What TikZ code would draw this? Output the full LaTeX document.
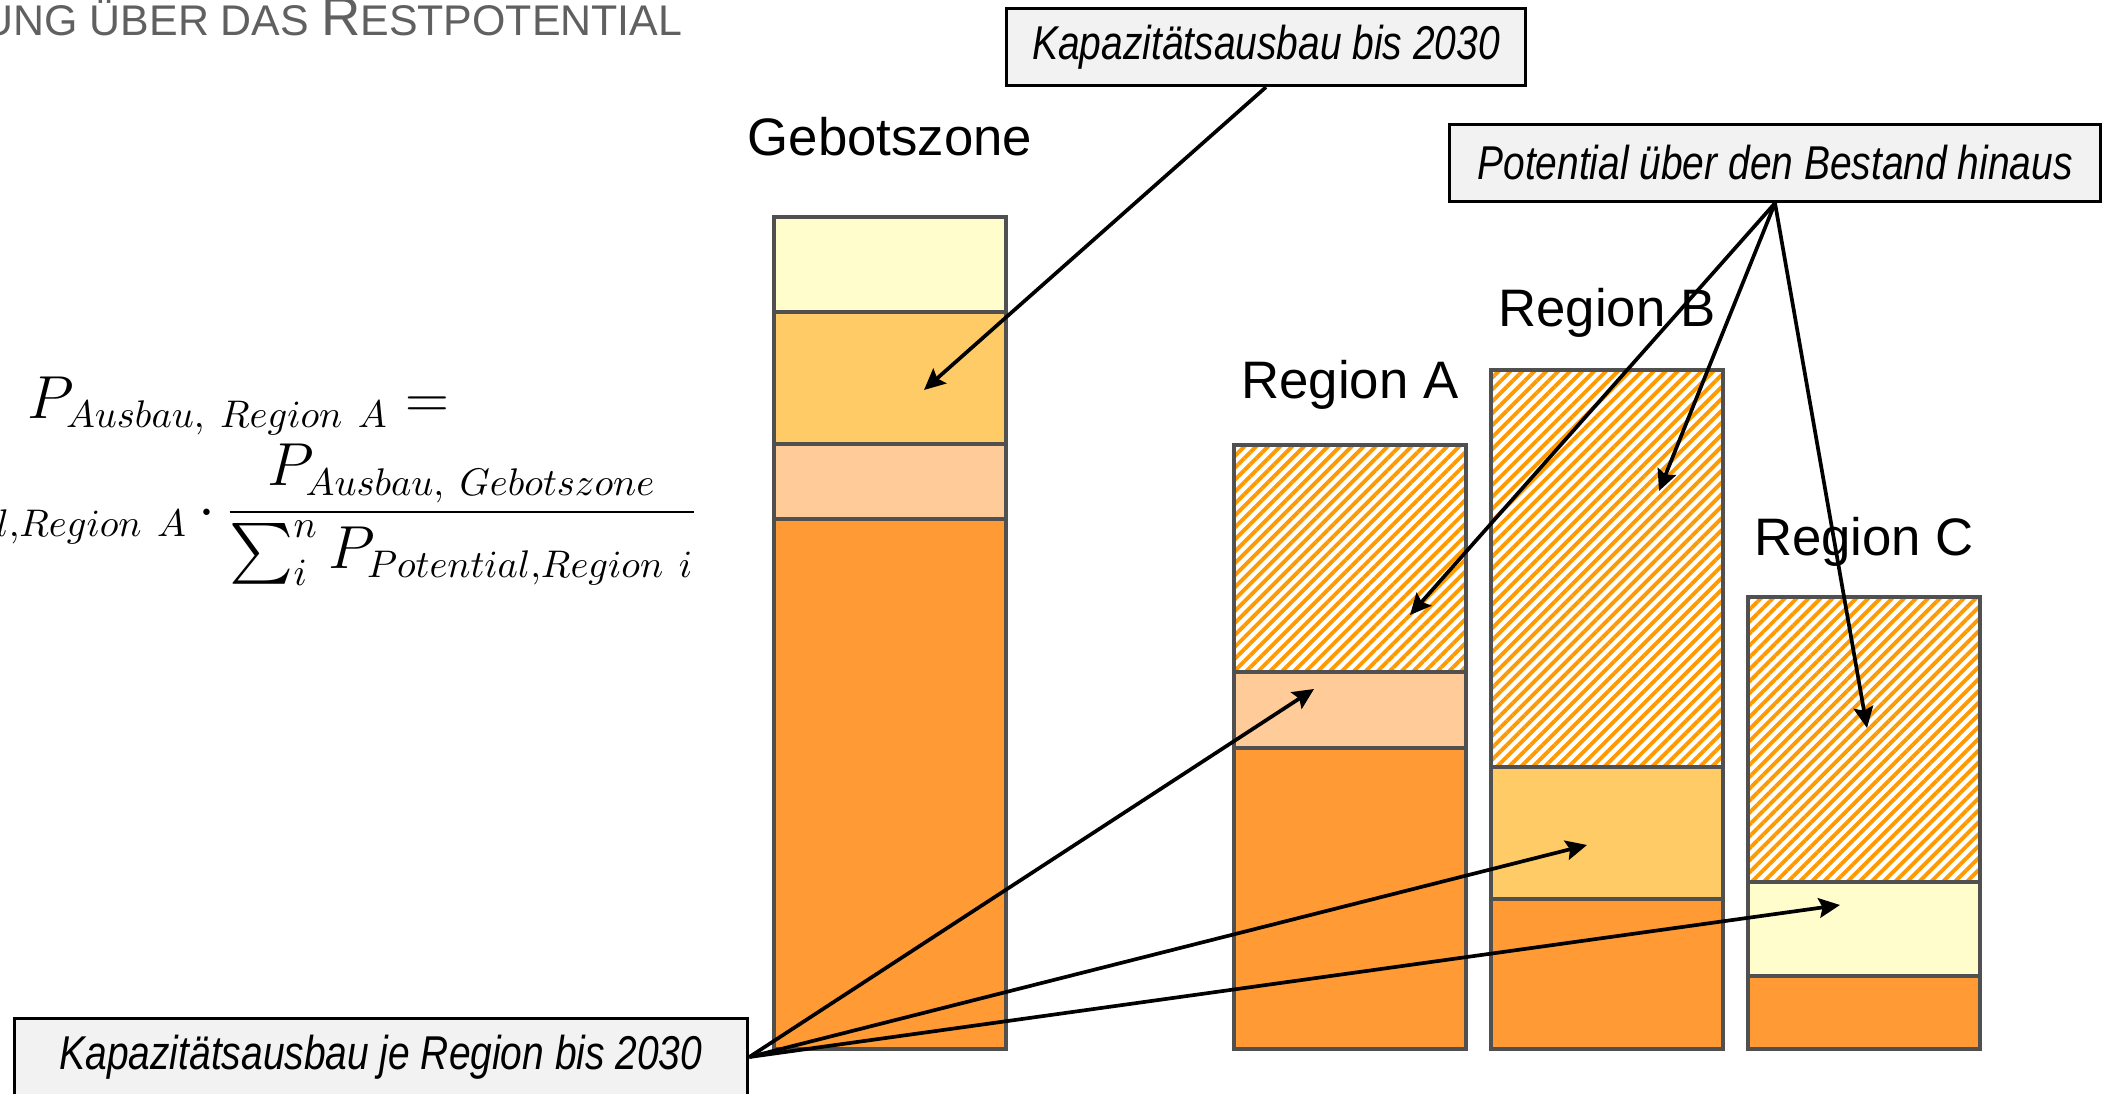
\documentclass[tikz,border=0pt]{standalone}
\usepackage{amsmath}
\usepackage[no-math]{fontspec}
\setmainfont{Liberation Sans}
\newfontfamily\narrowfont[FakeStretch=0.82]{Liberation Sans}
\usepackage{tikz}
\usetikzlibrary{arrows.meta,patterns.meta}
\DeclareMathSizes{16}{16}{11}{8.5}

\definecolor{zoneyellow}{HTML}{FFFDCB}
\definecolor{zonegold}{HTML}{FFCB66}
\definecolor{zonepeach}{HTML}{FFCB98}
\definecolor{zoneorange}{HTML}{FF9A35}
\definecolor{hatchorange}{HTML}{FF9900}
\definecolor{barline}{HTML}{505050}
\definecolor{boxfill}{HTML}{F2F2F2}
\definecolor{titlegray}{HTML}{606060}

\tikzstyle{seg} = [draw=barline, line width=0.9pt]
\tikzstyle{hatched} = [seg, pattern={Lines[angle=45,distance=2.4pt,line width=1.1pt]}, pattern color=hatchorange]
\tikzstyle{callout} = [draw, line width=0.9pt, fill=boxfill, minimum height=0.77cm, inner sep=0pt, font=\narrowfont\itshape\fontsize{13.5}{16}\selectfont]
\tikzstyle{pointer} = [-{Stealth[length=6pt,width=5.6pt,inset=1pt]}, line width=1.05pt]
\tikzstyle{barlabel} = [anchor=base, inner sep=0pt, font=\fontsize{15}{18}\selectfont]

\begin{document}
\begin{tikzpicture}[x=0.01cm, y=-0.01cm]
	\useasboundingbox (0,0) rectangle (2103,1094);
	
	% title, cut at the left border
	\node[anchor=base east, inner sep=0pt, text=titlegray] (TITLE) at (683,36)
	{\fontsize{12.2}{14}\selectfont UNG ÜBER DAS {\fontsize{15.5}{18}\selectfont R}ESTPOTENTIAL};
	
	% formula
	\node[anchor=base west, inner sep=0pt] (EQ_LHS) at (27,418)
	{\fontsize{16}{19}\selectfont $P_{Ausbau,\ Region\ A} =$};
	\node[anchor=base east, inner sep=0pt] (EQ_RHS) at (699,527)
	{\fontsize{16}{19}\selectfont $P_{Potential,Region\ A}\mkern3mu{\cdot}\mkern3mu\dfrac{P_{Ausbau,\ Gebotszone}}{\textstyle\sum_i^n P_{Potential,Region\ i}}$};
	
	% Gebotszone
	\draw[seg, fill=zoneyellow] (774,217) rectangle (1006,312);
	\draw[seg, fill=zonegold] (774,312) rectangle (1006,444);
	\draw[seg, fill=zonepeach] (774,444) rectangle (1006,519);
	\draw[seg, fill=zoneorange] (774,519) rectangle (1006,1049);
	\node[barlabel] (GZ_LABEL) at (890,156) {Gebotszone};
	
	% Region A
	\draw[hatched] (1234,445) rectangle (1466,672);
	\draw[seg, fill=zonepeach] (1234,672) rectangle (1466,748);
	\draw[seg, fill=zoneorange] (1234,748) rectangle (1466,1049);
	\node[barlabel] (REGA_LABEL) at (1350,398) {Region A};
	
	% Region B
	\draw[hatched] (1491,370) rectangle (1723,767);
	\draw[seg, fill=zonegold] (1491,767) rectangle (1723,899);
	\draw[seg, fill=zoneorange] (1491,899) rectangle (1723,1049);
	\node[barlabel] (REGB_LABEL) at (1607,327) {Region B};
	
	% Region C
	\draw[hatched] (1748,597) rectangle (1980,882);
	\draw[seg, fill=zoneyellow] (1748,882) rectangle (1980,976);
	\draw[seg, fill=zoneorange] (1748,976) rectangle (1980,1049);
	\node[barlabel] (REGC_LABEL) at (1864,555) {Region C};
	
	% callouts
	\node[callout, minimum width=5.19cm] (BOX_AUSBAU) at (1266,47) {Kapazitätsausbau bis 2030};
	\node[callout, minimum width=6.51cm] (BOX_POTENTIAL) at (1775,163) {Potential über den Bestand hinaus};
	\node[callout, minimum width=7.33cm] (BOX_REGION) at (381,1057) {Kapazitätsausbau je Region bis 2030};
	
	\coordinate (GZ_TIP) at (924,390);
	\coordinate (POT_A) at (1410,615);
	\coordinate (POT_B) at (1659,491);
	\coordinate (POT_C) at (1867,728);
	\coordinate (REG_A) at (1314,689);
	\coordinate (REG_B) at (1587,845);
	\coordinate (REG_C) at (1840,905);
	
	\draw[pointer] (BOX_AUSBAU.south) -- (GZ_TIP);
	\draw[pointer] (BOX_POTENTIAL.south) -- (POT_A);
	\draw[pointer] (BOX_POTENTIAL.south) -- (POT_B);
	\draw[pointer] (BOX_POTENTIAL.south) -- (POT_C);
	\draw[pointer] (BOX_REGION.east) -- (REG_A);
	\draw[pointer] (BOX_REGION.east) -- (REG_B);
	\draw[pointer] (BOX_REGION.east) -- (REG_C);
\end{tikzpicture}
\end{document}
